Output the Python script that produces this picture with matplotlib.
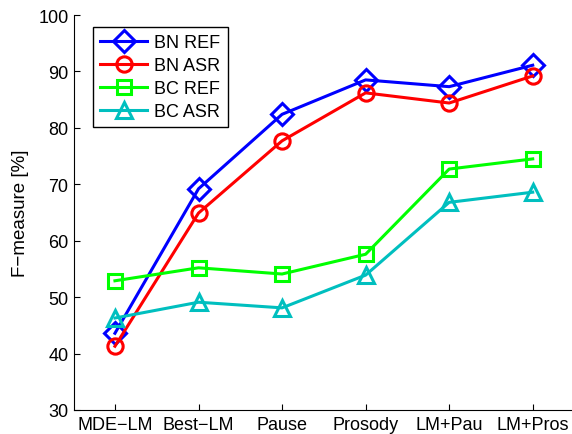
import matplotlib
matplotlib.use('Agg')
import matplotlib.pyplot as plt
import numpy as np

plt.rcParams['font.family'] = ['Liberation Sans', 'DejaVu Sans']

categories = ['MDE\u2212LM', 'Best\u2212LM', 'Pause', 'Prosody', 'LM+Pau', 'LM+Pros']
bn_ref = [43.6, 69.2, 82.4, 88.5, 87.3, 91.1]
bn_asr = [41.3, 64.9, 77.7, 86.2, 84.4, 89.2]
bc_ref = [52.9, 55.2, 54.1, 57.6, 72.7, 74.5]
bc_asr = [46.3, 49.1, 48.1, 53.9, 66.8, 68.6]

fig = plt.figure(figsize=(5.72, 4.35), dpi=100)
ax = fig.add_axes([74 / 572, 24 / 435, 498 / 572, 395 / 435])

x = np.arange(1, len(categories) + 1)
style = dict(lw=2.2, mfc='none', mew=2.2, ms=11)
ax.plot(x, bn_ref, '-D', color='#0000ff', label='BN REF', **style)
ax.plot(x, bn_asr, '-o', color='#ff0000', label='BN ASR', **style)
ax.plot(x, bc_ref, '-s', color='#00ff00', label='BC REF', **dict(style, ms=10))
ax.plot(x, bc_asr, '-^', color='#00bfbf', label='BC ASR', **dict(style, ms=12))

ax.set_xlim(0.51, 6.47)
ax.set_ylim(30, 100)
ax.set_xticks(x)
ax.set_xticklabels(categories)
ax.set_yticks(range(30, 101, 10))
ax.tick_params(labelsize=13, direction='in', length=4, width=0.8, pad=4)
ax.spines['top'].set_visible(False)
ax.spines['right'].set_visible(False)
ax.set_ylabel('F\u2212measure [%]', fontsize=13.5)
ax.yaxis.set_label_coords(-0.09, 0.5)

leg = ax.legend(loc='upper left', bbox_to_anchor=(0.038, 0.97), fontsize=13,
                handlelength=2.6, handletextpad=0.4, borderpad=0.4,
                labelspacing=0.33, borderaxespad=0, fancybox=False,
                framealpha=1, edgecolor='black')
leg.get_frame().set_linewidth(1.0)

fig.savefig('out.png', dpi=100)
